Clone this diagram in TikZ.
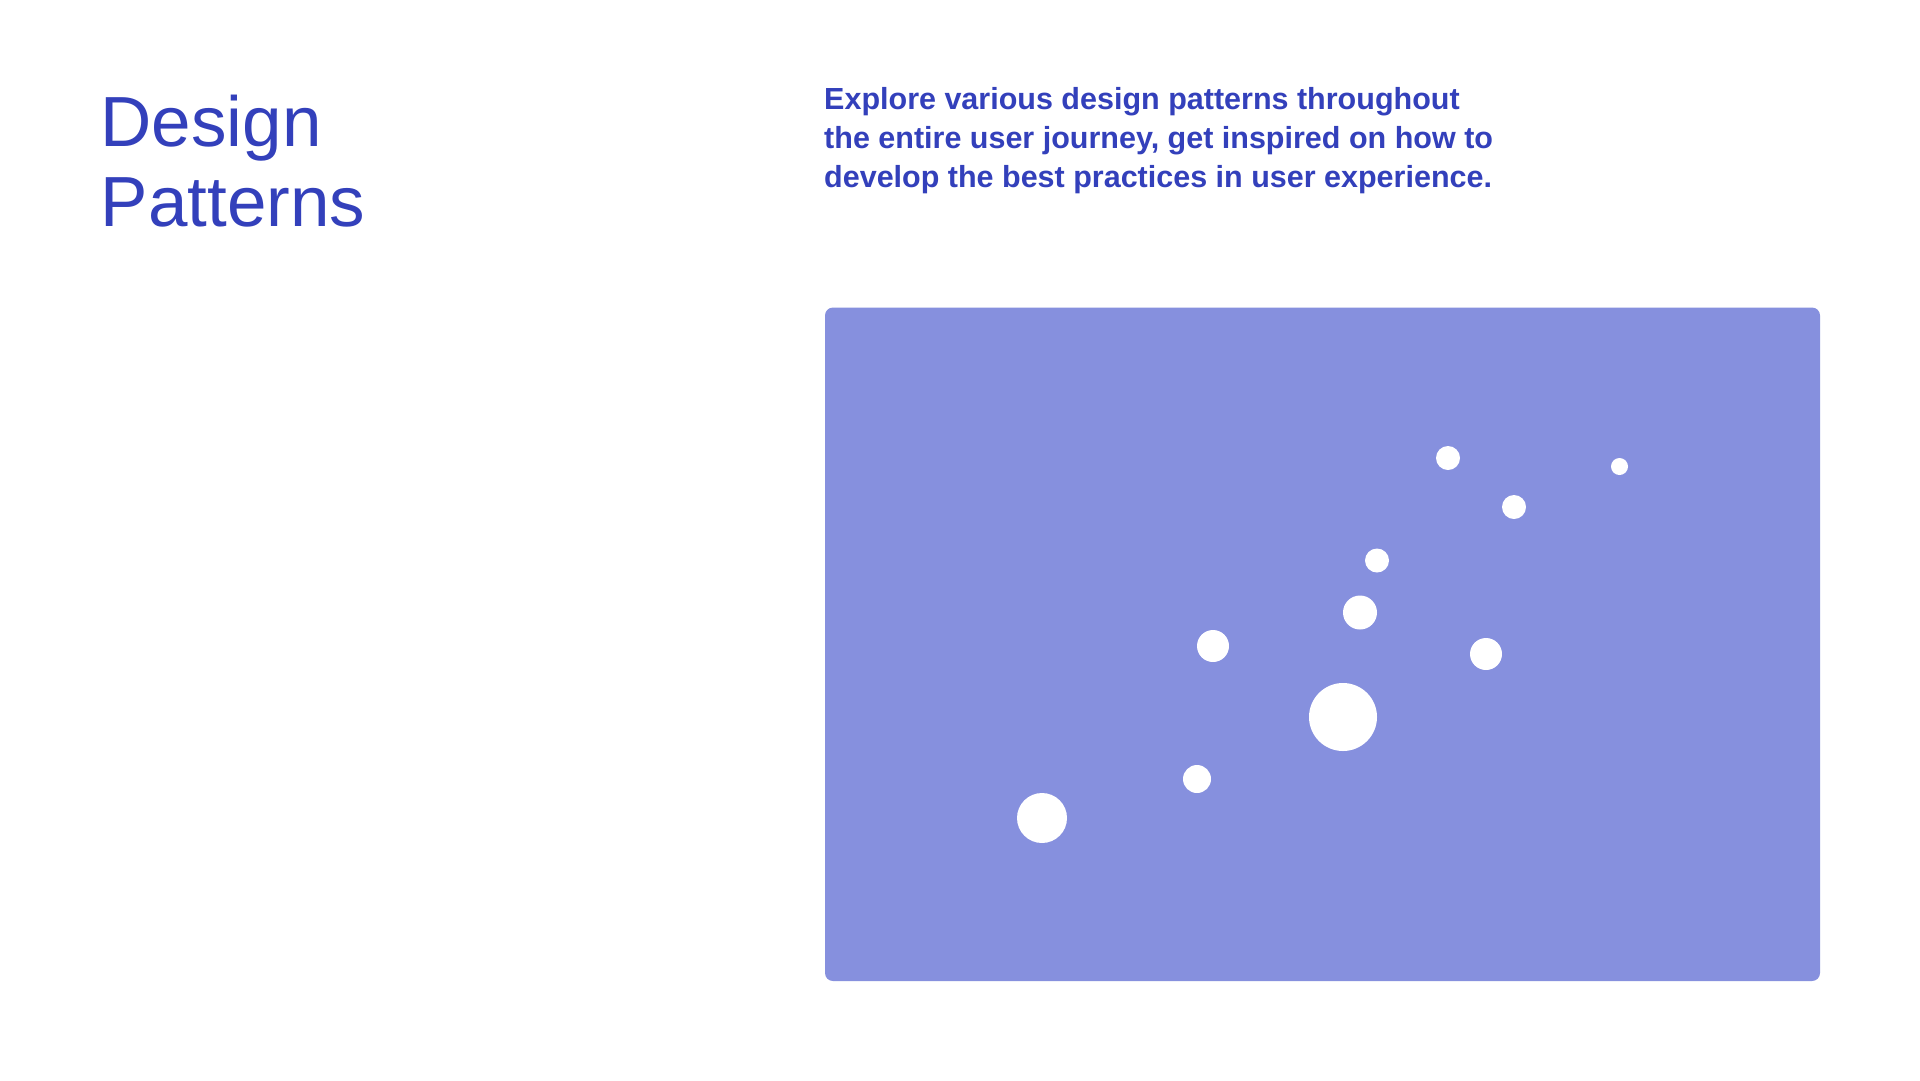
\documentclass[tikz,border=0pt]{standalone}
\usepackage{fontspec}
\setmainfont{Liberation Sans}
\definecolor{ink}{RGB}{51,64,187}
\definecolor{panel}{RGB}{134,144,222}
\begin{document}
\begin{tikzpicture}[x=1pt,y=-1pt,
  titletext/.style={inner sep=0pt,anchor=base west,text=ink,font=\fontsize{71}{80}\selectfont},
  bodytext/.style={inner sep=0pt,anchor=base west,text=ink,font=\fontsize{30.5}{39}\selectfont\bfseries},
  dot/.style={circle,fill=white,inner sep=0pt,minimum size=#1}]
\useasboundingbox[fill=white] (0,0) rectangle (1920,1080);
% title
\node[titletext] (t1) at (100.5,146) {Design};
\node[titletext] (t2) at (100.5,226.5) {Patterns};
% paragraph
\node[bodytext] (p1) at (824,109.5) {Explore various design patterns throughout};
\node[bodytext] (p2) at (824,148.5) {the entire user journey, get inspired on how to};
\node[bodytext] (p3) at (824,187.5) {develop the best practices in user experience.};
% panel
\fill[panel,rounded corners=8] (825,307.5) rectangle (1820,981);
\coordinate (panelNW) at (825,307.5);
% dots
\node[dot=24pt] (d1) at (1448,458) {};
\node[dot=17pt] (d2) at (1619.5,466.5) {};
\node[dot=24pt] (d3) at (1514,507) {};
\node[dot=24pt] (d4) at (1377,560.5) {};
\node[dot=34pt] (d5) at (1360,612.5) {};
\node[dot=32pt] (d6) at (1213,646) {};
\node[dot=32pt] (d7) at (1486,654) {};
\node[dot=68pt] (d8) at (1343,717) {};
\node[dot=28pt] (d9) at (1197,779) {};
\node[dot=50pt] (d10) at (1042,818) {};
\end{tikzpicture}
\end{document}
